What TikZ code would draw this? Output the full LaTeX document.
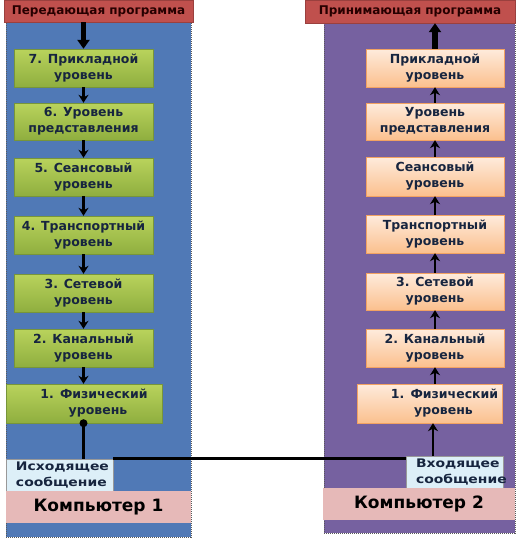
\documentclass[tikz,border=0pt]{standalone}
\usepackage{fontspec}
\setmainfont{DejaVu Sans}
\newfontfamily\widefont[FakeStretch=1.18]{DejaVu Sans}
\usetikzlibrary{arrows.meta}
\definecolor{panelblue}{HTML}{5079B6}
\definecolor{panelpurple}{HTML}{7661A0}
\definecolor{hdrred}{HTML}{C0504D}
\definecolor{greentop}{HTML}{B9D35C}
\definecolor{greenbot}{HTML}{8FAE3F}
\definecolor{greenline}{HTML}{77953A}
\definecolor{orgtop}{HTML}{FEEBDC}
\definecolor{orgbot}{HTML}{FBC08E}
\definecolor{orgline}{HTML}{F2A262}
\definecolor{pinkbox}{HTML}{E6B9B8}
\definecolor{msgblue}{HTML}{DDEFF8}
\definecolor{boxtext}{HTML}{17253F}
\tikzset{
  x=1pt,y=-1pt,
  panel/.style={draw=black!65, densely dotted, line width=1pt},
  hdr/.style={fill=hdrred, draw=hdrred!80!black, inner sep=0pt, font=\bfseries\fontsize{12}{14}\selectfont, text=black!85!red},
  gbox/.style={top color=greentop, bottom color=greenbot, draw=greenline, line width=0.4pt, inner sep=0pt, align=center, text=boxtext, font=\bfseries\fontsize{12.5}{16}\selectfont},
  obox/.style={top color=orgtop, bottom color=orgbot, draw=orgline, line width=0.4pt, inner sep=0pt, align=center, text=boxtext, font=\bfseries\fontsize{12.5}{16}\selectfont},
  msg/.style={fill=msgblue, draw=black!40, line width=0.4pt, inner sep=0pt, align=left, text=boxtext, font=\widefont\bfseries\fontsize{11.8}{15.5}\selectfont},
  comp/.style={fill=pinkbox, inner sep=0pt, text=black, font=\bfseries\fontsize{17}{20}\selectfont},
  arr/.style={-{Stealth[length=8pt,width=10pt]}, line width=2.3pt, black},
  bigarr/.style={-{Triangle[length=9pt,width=12pt]}, line width=5.5pt, black},
  wire/.style={line width=2.8pt, black}
}
\begin{document}
\begin{tikzpicture}
\useasboundingbox (0,0) rectangle (525,544);
% panels
\node[panel, fill=panelblue, minimum width=185, minimum height=515, inner sep=0pt] (pl) at (98.5,279.5) {};
\node[panel, fill=panelpurple, minimum width=191, minimum height=511, inner sep=0pt] (pr) at (419.5,277.5) {};
% headers
\node[hdr, minimum width=189, minimum height=22] (hl) at (98.5,11) {Передающая программа};
\node[hdr, minimum width=210, minimum height=23] (hr) at (410,11.5) {Принимающая программа};
% left boxes
\node[gbox, minimum width=139, minimum height=38] (b7) at (83.5,68) {7. Прикладной\\уровень};
\node[gbox, minimum width=139, minimum height=37] (b6) at (83.5,121.5) {6. Уровень\\представления};
\node[gbox, minimum width=139, minimum height=38] (b5) at (83.5,177) {5. Сеансовый\\уровень};
\node[gbox, minimum width=139, minimum height=38] (b4) at (83.5,235) {4. Транспортный\\уровень};
\node[gbox, minimum width=139, minimum height=38] (b3) at (83.5,293) {3. Сетевой\\уровень};
\node[gbox, minimum width=139, minimum height=38] (b2) at (83.5,348) {2. Канальный\\уровень};
\node[gbox, minimum width=156, minimum height=39, text width=156, align=center] (b1) at (84,403.5) {\hspace*{20pt}1. Физический\\\hspace*{28pt}уровень};
% right boxes
\node[obox, minimum width=138, minimum height=38] (r7) at (435,68) {Прикладной\\уровень};
\node[obox, minimum width=138, minimum height=37] (r6) at (435,121.5) {Уровень\\представления};
\node[obox, minimum width=138, minimum height=39] (r5) at (435,176.5) {Сеансовый\\уровень};
\node[obox, minimum width=138, minimum height=38] (r4) at (435,234) {Транспортный\\уровень};
\node[obox, minimum width=138, minimum height=37] (r3) at (435,291.5) {3. Сетевой\\уровень};
\node[obox, minimum width=138, minimum height=38] (r2) at (435,348) {2. Канальный\\уровень};
\node[obox, minimum width=145, minimum height=39, text width=145, align=center] (r1) at (429.5,403.5) {\hspace*{30pt}1. Физический\\\hspace*{28pt}уровень};
% bottom boxes
\node[msg, minimum width=107, minimum height=32, text width=87] (out) at (59.5,475) {Исходящее\\сообщение};
\node[comp, minimum width=185, minimum height=32] (c1) at (98.5,507) {Компьютер 1};
\node[msg, minimum width=97, minimum height=32, text width=77] (in) at (454.5,472) {Входящее\\сообщение};
\node[comp, minimum width=192, minimum height=32] (c2) at (419,504) {Компьютер 2};
% arrows left
\draw[bigarr] (b7.north |- hl.south) -- (b7.north);
\draw[arr] (b7.south) -- (b6.north);
\draw[arr] (b6.south) -- (b5.north);
\draw[arr] (b5.south) -- (b4.north);
\draw[arr] (b4.south) -- (b3.north);
\draw[arr] (b3.south) -- (b2.north);
\draw[arr] (b2.south) -- (b2.south |- b1.north);
% arrows right
\draw[bigarr] (r7.north) -- (r7.north |- hr.south);
\draw[arr] (r6.north) -- (r7.south);
\draw[arr] (r5.north) -- (r6.south);
\draw[arr] (r4.north) -- (r5.south);
\draw[arr] (r3.north) -- (r4.south);
\draw[arr] (r2.north) -- (r3.south);
\draw[arr] (r2.north |- r1.north) -- (r2.south);
\draw[arr] (in.north -| 433,0) -- (r1.south -| 433,0);
% wire
\coordinate (wl) at (b2.south |- out.north);
\draw[wire] (b2.south |- b1.south) -- (wl);
\fill (b2.south |- b1.south) circle (4);
\draw[wire] (out.north east) -- (out.north east -| in.west);
\end{tikzpicture}
\end{document}
